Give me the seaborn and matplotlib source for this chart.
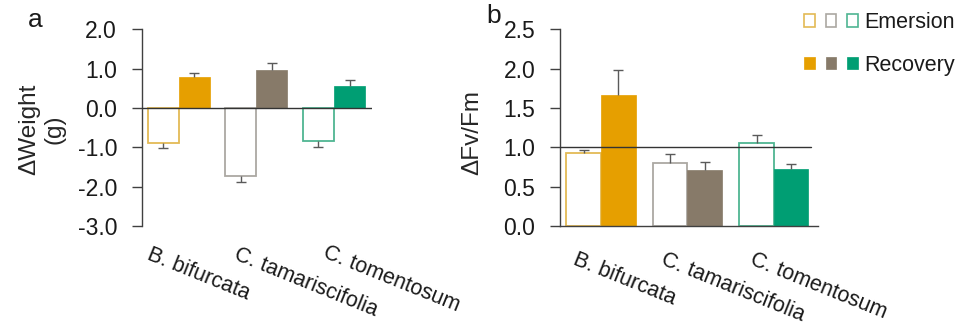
import numpy as np
import pandas as pd
import matplotlib
matplotlib.use("Agg")
import matplotlib.pyplot as plt
import matplotlib.transforms as mtransforms
from matplotlib.patches import Patch
from matplotlib.legend_handler import HandlerTuple
import seaborn as sns

# ---------------- data ----------------
species = ["B. bifurcata", "C. tamariscifolia", "C. tomentosum"]
conditions = ["Emersion", "Recovery"]

weight_emersion = [-0.88, -1.74, -0.83]
weight_emersion_err = [0.125, 0.135, 0.17]
weight_recovery = [0.78, 0.975, 0.55]
weight_recovery_err = [0.11, 0.16, 0.16]

fvfm_emersion = [0.93, 0.80, 1.06]
fvfm_emersion_err = [0.035, 0.11, 0.10]
fvfm_recovery = [1.67, 0.71, 0.72]
fvfm_recovery_err = [0.31, 0.11, 0.07]

weight_ticks = [2.0, 1.0, 0.0, -1.0, -2.0, -3.0]
fvfm_ticks = [0.0, 0.5, 1.0, 1.5, 2.0, 2.5]

fill_colors = ["#E69F00", "#877A69", "#009E73"]
edge_colors = ["#E3BA55", "#ABA8A2", "#4FB592"]

# ---------------- style ----------------
sns.set_theme(style="white")
plt.rcParams["font.family"] = ["Liberation Sans", "DejaVu Sans"]
plt.rcParams["text.color"] = "#1a1a1a"

W, H = 964, 328
fig = plt.figure(figsize=(W / 100, H / 100), dpi=100)


def px_axes(x0, x1, y0, y1):
    return fig.add_axes([x0 / W, 1 - y1 / H, (x1 - x0) / W, (y1 - y0) / H])


ax_a = px_axes(141.7, 372, 29.5, 226)
ax_b = px_axes(560, 818, 29.5, 226)


def make_df(em, rec):
    return pd.DataFrame({
        "species": species * 2,
        "condition": ["Emersion"] * 3 + ["Recovery"] * 3,
        "value": list(em) + list(rec),
    })


def draw_panel(ax, em, em_err, rec, rec_err):
    df = make_df(em, rec)
    sns.barplot(data=df, x="species", y="value", hue="condition",
                order=species, hue_order=conditions, width=0.8,
                errorbar=None, legend=False, ax=ax, zorder=2)
    vals = [em, rec]
    errs = [em_err, rec_err]
    for ci, cont in enumerate(ax.containers):
        xs, tips, bases = [], [], []
        for j, bar in enumerate(cont.patches):
            if ci == 0:
                bar.set_facecolor("white")
                bar.set_edgecolor(edge_colors[j])
                bar.set_linewidth(1.3)
            else:
                bar.set_facecolor(fill_colors[j])
                bar.set_edgecolor(fill_colors[j])
                bar.set_linewidth(0.5)
            v = vals[ci][j]
            e = errs[ci][j]
            xs.append(bar.get_x() + bar.get_width() / 2)
            bases.append(v)
            tips.append(v + np.sign(v) * e)
        ax.vlines(xs, bases, tips, color="#5a5a5a", lw=1.0, zorder=3)
        ax.plot(xs, tips, ls="none", marker="_", ms=7, mew=1.0,
                color="#5a5a5a", zorder=3)


draw_panel(ax_a, weight_emersion, weight_emersion_err,
           weight_recovery, weight_recovery_err)
draw_panel(ax_b, fvfm_emersion, fvfm_emersion_err,
           fvfm_recovery, fvfm_recovery_err)

# panel a axes
ax_a.set_xlim(-0.48, 2.49)
ax_a.set_ylim(-3.0, 2.0)
ax_a.set_yticks(weight_ticks)
ax_a.set_yticklabels([f"{t:.1f}" for t in weight_ticks])
ax_a.axhline(0, color="#333333", lw=1.0, zorder=4)
for s in ["top", "right", "bottom"]:
    ax_a.spines[s].set_visible(False)

# panel b axes
ax_b.set_xlim(-0.474, 2.51)
ax_b.set_ylim(0.0, 2.5)
ax_b.set_yticks(fvfm_ticks)
ax_b.set_yticklabels([f"{t:.1f}" for t in fvfm_ticks])
ax_b.axhline(1.0, xmax=0.973, color="#333333", lw=1.0, zorder=4)
for s in ["top", "right"]:
    ax_b.spines[s].set_visible(False)

for ax in (ax_a, ax_b):
    ax.set_xlabel("")
    for s in ["left", "bottom"]:
        ax.spines[s].set_color("#404040")
        ax.spines[s].set_linewidth(1.0)
    ax.tick_params(axis="y", left=True, length=7.2, width=1.0,
                   color="#404040", pad=10.5, labelsize=16.5,
                   labelcolor="#1a1a1a")
    ax.tick_params(axis="x", bottom=False, length=0, pad=0,
                   labelsize=15.5, labelcolor="#1a1a1a")
    ax.set_facecolor("none")

# rotated category labels
offsets = {
    ax_a: ([-27, -17, -6], [18, 18, 16]),
    ax_b: ([-23, -21, -19], [23, 23, 23]),
}
for ax in (ax_a, ax_b):
    ax.set_xticks(range(len(species)))
    labs = ax.set_xticklabels(species, rotation=-22, ha="left", va="top",
                              rotation_mode="anchor")
    dxs, dys = offsets[ax]
    for lab, dx, dy in zip(labs, dxs, dys):
        lab.set_transform(lab.get_transform() + mtransforms.ScaledTranslation(
            dx / 100, -dy / 100, fig.dpi_scale_trans))

# y labels
ax_a.set_ylabel("\u0394Weight\n(g)", fontsize=17.5, ha="center", va="center",
                linespacing=1.2)
ax_a.yaxis.set_label_coords(-0.435, 0.494)
ax_b.set_ylabel("\u0394Fv/Fm", fontsize=17.5, ha="center", va="center")
ax_b.yaxis.set_label_coords(-0.341, 0.478)

# panel letters
fig.text(35 / W, 1 - 20 / H, "a", fontsize=19, ha="center", va="center")
fig.text(494 / W, 1 - 16 / H, "b", fontsize=19, ha="center", va="center")

# legend
em_handles = tuple(Patch(facecolor="white", edgecolor=c, lw=1.2)
                   for c in edge_colors)
rec_handles = tuple(Patch(facecolor=c, edgecolor=c, lw=0.5)
                    for c in fill_colors)
fig.legend([em_handles, rec_handles], conditions,
           handler_map={tuple: HandlerTuple(ndivide=None, pad=0.5)},
           loc="upper left", bbox_to_anchor=(804 / W, 1 - 12 / H),
           frameon=False, fontsize=15.5, handlelength=2.5, handleheight=0.52,
           handletextpad=0.3, labelspacing=1.0, borderpad=0,
           borderaxespad=0)

fig.savefig("out.png", dpi=100)
